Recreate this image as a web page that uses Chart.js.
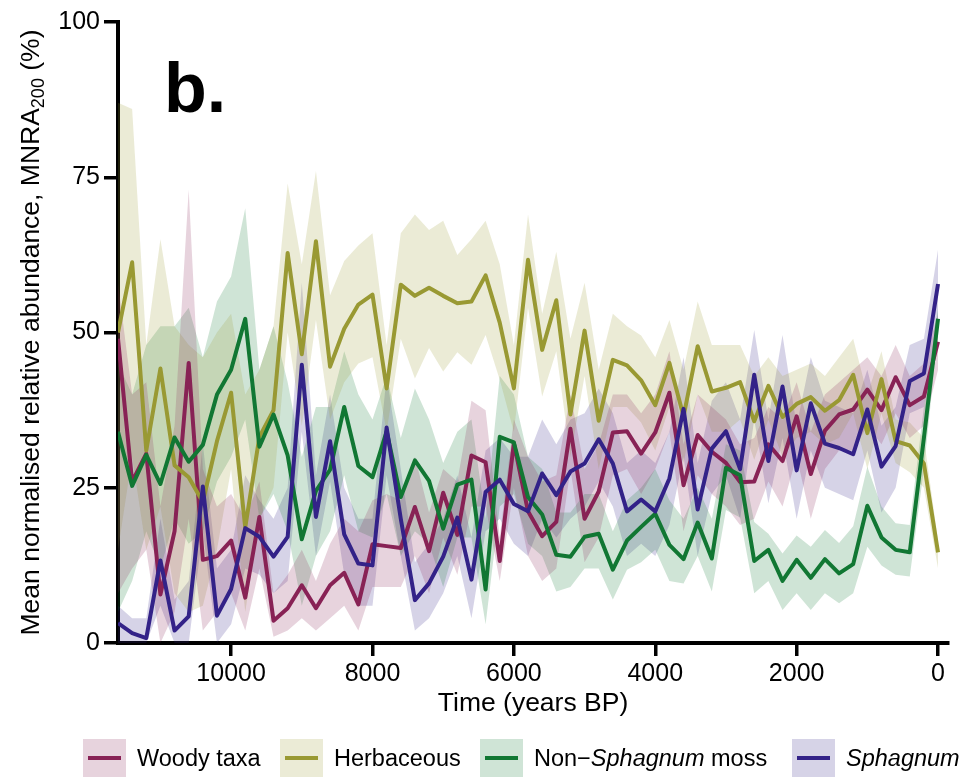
<!DOCTYPE html>
<html>
<head>
<meta charset="utf-8">
<script src="https://cdn.jsdelivr.net/npm/chart.js@4.4.1/dist/chart.umd.min.js"></script>
<style>
    html, body { margin: 0; padding: 0; background: #fff; }
    #wrap { position: relative; width: 960px; height: 778px; font-family: "Liberation Sans", Arial, sans-serif; }
    #chart { position: absolute; left: 0; top: 0; }
    .legend-item { position: absolute; top: 739px; height: 38px; display: flex; align-items: center; font-size: 23.5px; color: #000; white-space: nowrap; }
    .legend-box { width: 43px; height: 38px; position: relative; margin-right: 11px; flex: none; }
    .legend-box span { position: absolute; left: 5px; right: 5px; top: 17px; height: 4px; }
</style>
</head>
<body>
<div id="wrap">
    <canvas id="chart" width="960" height="778"></canvas>
    <div id="legend"></div>
</div>
<script>
// time bins (years BP), 200-year steps
const years = [11600, 11400, 11200, 11000, 10800, 10600, 10400, 10200, 10000, 9800,
    9600, 9400, 9200, 9000, 8800, 8600, 8400, 8200, 8000, 7800,
    7600, 7400, 7200, 7000, 6800, 6600, 6400, 6200, 6000, 5800,
    5600, 5400, 5200, 5000, 4800, 4600, 4400, 4200, 4000, 3800,
    3600, 3400, 3200, 3000, 2800, 2600, 2400, 2200, 2000, 1800,
    1600, 1400, 1200, 1000, 800, 600, 400, 200, 0];

const xTicks = [10000, 8000, 6000, 4000, 2000, 0];
const yTicks = [0, 25, 50, 75, 100];

const woodyMean = [49, 26, 30.5, 7.8, 18, 45.1, 13.4, 14, 16.5, 7.3,
    20.3, 3.6, 5.6, 9.3, 5.6, 9.3, 11.3, 6.2, 15.9, 15.6,
    15.3, 21.9, 14.8, 24.2, 17.4, 30.2, 29.1, 13.2, 32.2, 21.2,
    17.2, 19.5, 34.5, 20, 24.4, 33.9, 34.1, 30.5, 33.9, 40.3,
    25.4, 33.5, 30.8, 29, 25.9, 26, 32, 29.3, 36.5, 27.2,
    34.2, 36.8, 37.6, 40.8, 37.5, 42.8, 38.3, 39.7, 48.5];
const woodyUpper = [58, 40, 42, 22, 35, 73, 28, 22, 24, 20,
    26, 8, 11, 15, 10, 16, 20, 18, 23, 24,
    23, 30, 21, 28, 26, 39, 37.5, 17, 36, 30,
    26, 27, 40, 28, 32, 40, 40, 37, 40, 47,
    32, 40, 38, 36, 32, 33, 38, 36, 42, 34,
    40, 42, 44, 46, 43, 48, 43, 45, 53];
const woodyLower = [8, 12, 15, 0, 5, 20, 2, 5, 8, 2,
    12, 1, 2, 4, 2, 4, 6, 2, 9, 9,
    9, 14, 8, 17, 11, 22, 22, 10, 25, 14,
    10, 12, 28, 13, 17, 27, 28, 24, 28, 34,
    18, 27, 24, 22, 19, 20, 26, 22, 30, 20,
    28, 31, 31, 35, 32, 37, 33, 35, 44];

const herbMean = [50, 61.3, 31, 44.2, 28.6, 26.7, 22.7, 32.5, 40.3, 18.6,
    33.2, 37.5, 62.8, 46.5, 64.7, 44.5, 50.6, 54.5, 56.1, 41,
    57.7, 55.9, 57.2, 55.9, 54.7, 55, 59.2, 51.6, 41, 61.7,
    47.2, 55.2, 36.8, 50.3, 35.8, 45.6, 44.7, 42.3, 38.3, 45.1,
    36.5, 47.8, 40.5, 41.1, 42, 35.7, 41.4, 36.4, 38.5, 39.6,
    37.4, 39.1, 43.2, 33.8, 42.5, 32.5, 31.8, 28.9, 14.6];
const herbUpper = [87, 86, 48, 65, 51, 48, 46, 50, 53, 40,
    44, 51, 74, 61, 76, 56, 61.5, 64, 66, 48,
    66, 69, 66.5, 68, 62.5, 65, 68, 61, 48, 69,
    53, 63, 49, 58, 44, 53, 51, 49.5, 46, 52,
    44, 55, 48, 48, 48, 43, 46, 43, 44, 45,
    43, 46, 49, 40, 47, 36, 35.5, 33, 16.5];
const herbLower = [15, 30, 15, 22, 8, 5, 6, 15, 28, 5,
    20, 25, 50, 35, 52, 36, 42, 45, 46, 34,
    49, 42.6, 47.5, 43.7, 46.8, 44.8, 49.6, 42.4, 34, 54,
    39.7, 47, 30, 43, 28, 38, 38, 35.5, 31, 38,
    29, 40, 34, 34, 36, 29.5, 36, 30, 33, 34,
    32, 33, 37, 28, 37, 29, 27.5, 25, 12];

const mossMean = [34, 25.3, 30.3, 25.6, 33.1, 29.2, 31.9, 40, 44, 52.2,
    31.6, 36.8, 30.2, 16.7, 24.5, 27.9, 38, 28.5, 26.7, 34.1,
    23.5, 29.4, 26.1, 18.4, 25.5, 26.3, 8.6, 33.2, 32.3, 23.5,
    20.7, 14.2, 13.9, 17.1, 17.6, 11.8, 16.5, 18.7, 20.8, 15.8,
    13.5, 19.4, 13.6, 28.2, 27, 13.2, 15, 10, 13.4, 10.5,
    13.5, 11.2, 12.7, 22.1, 17, 15, 14.6, 33, 52.2];
const mossUpper = [45, 40, 48, 51, 51, 54, 46, 55, 59, 70,
    44, 51, 42, 30, 38, 38, 47, 40, 36, 43,
    33, 41, 36, 29, 34, 36, 20, 43, 40, 30,
    28, 21, 21, 24, 24, 18, 23, 25, 28, 23,
    20, 25, 20, 32, 31, 19.5, 17.6, 14.4, 17.3, 15.5,
    18.2, 16.1, 18.8, 28.4, 22, 19.3, 19, 38, 54];
const mossLower = [5, 10, 18, 12, 20, 16, 18, 26, 30, 36,
    20, 24, 18, 6, 14, 18, 27, 18, 17, 24,
    14, 18, 16, 9, 17, 17, 3, 22, 24, 16,
    14, 8.3, 9, 12, 12, 7, 11.8, 13, 15, 10,
    9.6, 14, 8.3, 21.4, 20.2, 8, 10, 5.3, 8, 5.3,
    8, 6.4, 8, 15.5, 12.5, 11, 10.7, 28, 50];

const sphMean = [3.2, 1.6, 0.8, 13.3, 2, 4.3, 25.2, 4.4, 8.7, 18.5,
    17.1, 13.9, 17.1, 44.8, 20.3, 32.5, 17.5, 12.8, 12.5, 34.7,
    20, 6.9, 9.6, 13.9, 20.2, 10.2, 24.3, 26.3, 22.4, 21.2,
    27.3, 23.8, 27.6, 28.9, 32.8, 28.9, 21.2, 23.1, 21.2, 26.5,
    37.7, 21.5, 31.3, 34.1, 28, 43.2, 29.3, 41.3, 27.8, 38.6,
    32.1, 31.4, 30.4, 37.6, 28.4, 31.7, 42.2, 43.4, 57.8];
const sphUpper = [6, 4, 4, 20, 7, 10, 32, 12, 15, 27,
    23, 20, 25, 58, 27, 40, 25, 20, 20, 43,
    28, 13, 16, 20, 27, 17, 31, 33, 30, 30,
    36, 32, 36, 37, 41, 37, 29, 31, 29, 34,
    46, 29, 39, 42, 36, 50.4, 36, 49.6, 35, 46,
    39, 38, 37, 44, 35, 38, 48, 49, 63.3];
const sphLower = [0, 0, 0, 6, 0, 0, 18, 0, 3, 12,
    11, 8, 10, 34, 14, 26, 11, 6, 6, 27,
    14, 2, 4, 8, 14, 4, 18, 20, 16, 14,
    20, 17, 20, 22, 26, 22, 14, 16, 14, 19,
    30, 14, 24, 27, 20, 36, 22.5, 33, 20, 31,
    25, 24, 23, 31, 21, 25, 37, 38, 52];

const seriesList = [
    { label: "Woody taxa", html: "Woody taxa", rgb: "136, 34, 85", mean: woodyMean, upper: woodyUpper, lower: woodyLower, left: 83 },
    { label: "Herbaceous", html: "Herbaceous", rgb: "153, 153, 51", mean: herbMean, upper: herbUpper, lower: herbLower, left: 280 },
    { label: "Non-Sphagnum moss", html: "Non\u2212<i>Sphagnum</i> moss", rgb: "17, 119, 51", mean: mossMean, upper: mossUpper, lower: mossLower, left: 480 },
    { label: "Sphagnum", html: "<i>Sphagnum</i>", rgb: "51, 34, 136", mean: sphMean, upper: sphUpper, lower: sphLower, left: 792 }
];

const FONT = "'Liberation Sans', Arial, sans-serif";

function toPoints(values) {
    return years.map((year, i) => ({ x: year, y: values[i] }));
}

function buildDatasets() {
    const datasets = [];
    seriesList.forEach((s, k) => {
        // ribbon: upper filled down to the next dataset (lower)
        datasets.push({
            label: s.label + " upper",
            data: toPoints(s.upper),
            borderWidth: 0,
            pointRadius: 0,
            backgroundColor: `rgba(${s.rgb}, 0.2)`,
            fill: "+1",
            order: 20 + k
        });
        datasets.push({
            label: s.label + " lower",
            data: toPoints(s.lower),
            borderWidth: 0,
            pointRadius: 0,
            fill: false,
            order: 20 + k
        });
    });
    seriesList.forEach((s, k) => {
        datasets.push({
            label: s.label,
            data: toPoints(s.mean),
            borderColor: `rgb(${s.rgb})`,
            borderWidth: 4,
            borderJoinStyle: "round",
            pointRadius: 0,
            tension: 0,
            fill: false,
            order: 10 - k
        });
    });
    return datasets;
}

const extraText = {
    id: "extraText",
    afterDraw(chart) {
        const { ctx, chartArea } = chart;
        ctx.save();
        ctx.fillStyle = "#000";

        // panel letter
        ctx.font = `bold 70px ${FONT}`;
        ctx.textBaseline = "alphabetic";
        ctx.textAlign = "left";
        ctx.fillText("b.", 164, 112);

        // y title with subscript
        const main = "Mean normalised relative abundance, MNRA";
        const sub = "200";
        const tail = " (%)";
        const mainFont = `26.5px ${FONT}`;
        const subFont = `18px ${FONT}`;
        ctx.font = mainFont;
        const w1 = ctx.measureText(main).width;
        const w3 = ctx.measureText(tail).width;
        ctx.font = subFont;
        const w2 = ctx.measureText(sub).width;
        const total = w1 + w2 + w3;
        const cy = (chartArea.top + chartArea.bottom) / 2;
        ctx.translate(32, cy);
        ctx.rotate(-Math.PI / 2);
        ctx.textBaseline = "middle";
        let x = -total / 2;
        ctx.font = mainFont;
        ctx.fillText(main, x, 0);
        x += w1;
        ctx.font = subFont;
        ctx.fillText(sub, x, 7);
        x += w2;
        ctx.font = mainFont;
        ctx.fillText(tail, x, 0);
        ctx.restore();
    }
};

function initializeLegend() {
    const legend = document.getElementById("legend");
    seriesList.forEach((s) => {
        const item = document.createElement("div");
        item.className = "legend-item";
        item.style.left = `${s.left}px`;
        item.innerHTML = `<div class="legend-box" style="background: rgba(${s.rgb}, 0.2)"><span style="background: rgb(${s.rgb})"></span></div><div>${s.html}</div>`;
        legend.appendChild(item);
    });
}

function initializeChart() {
    Chart.defaults.font.family = FONT;
    Chart.defaults.color = "#000";

    new Chart(document.getElementById("chart").getContext("2d"), {
        type: "line",
        data: { datasets: buildDatasets() },
        options: {
            responsive: false,
            devicePixelRatio: 1,
            animation: false,
            layout: { padding: { top: 22, right: 12, bottom: 58, left: 0 } },
            plugins: {
                legend: { display: false },
                tooltip: { enabled: false },
                filler: { drawTime: "beforeDatasetsDraw" }
            },
            scales: {
                x: {
                    type: "linear",
                    reverse: true,
                    min: -141,
                    max: 11600,
                    afterBuildTicks(axis) {
                        axis.ticks = xTicks.map((value) => ({ value }));
                    },
                    afterFit(axis) {
                        axis.height = 77;
                    },
                    grid: {
                        drawOnChartArea: false,
                        drawTicks: true,
                        tickLength: 13,
                        tickWidth: 3.5,
                        tickColor: "#000",
                        lineWidth: 3.5,
                        color: "#000"
                    },
                    border: { display: true, color: "#000", width: 4 },
                    ticks: {
                        color: "#000",
                        font: { size: 25 },
                        padding: 3,
                        maxRotation: 0,
                        autoSkip: false,
                        callback: (value) => String(value)
                    },
                    title: {
                        display: true,
                        text: "Time (years BP)",
                        color: "#000",
                        font: { size: 26.5 },
                        padding: { top: 0, bottom: 0 }
                    }
                },
                y: {
                    min: 0,
                    max: 100,
                    afterBuildTicks(axis) {
                        axis.ticks = yTicks.map((value) => ({ value }));
                    },
                    afterFit(axis) {
                        axis.width = 118;
                    },
                    grid: {
                        drawOnChartArea: false,
                        drawTicks: true,
                        tickLength: 14,
                        tickWidth: 3.5,
                        tickColor: "#000",
                        lineWidth: 3.5,
                        color: "#000"
                    },
                    border: { display: true, color: "#000", width: 4 },
                    ticks: {
                        color: "#000",
                        font: { size: 25 },
                        padding: 4,
                        autoSkip: false
                    }
                }
            }
        },
        plugins: [extraText]
    });
}

document.addEventListener("DOMContentLoaded", () => {
    initializeLegend();
    initializeChart();
});
</script>
</body>
</html>
